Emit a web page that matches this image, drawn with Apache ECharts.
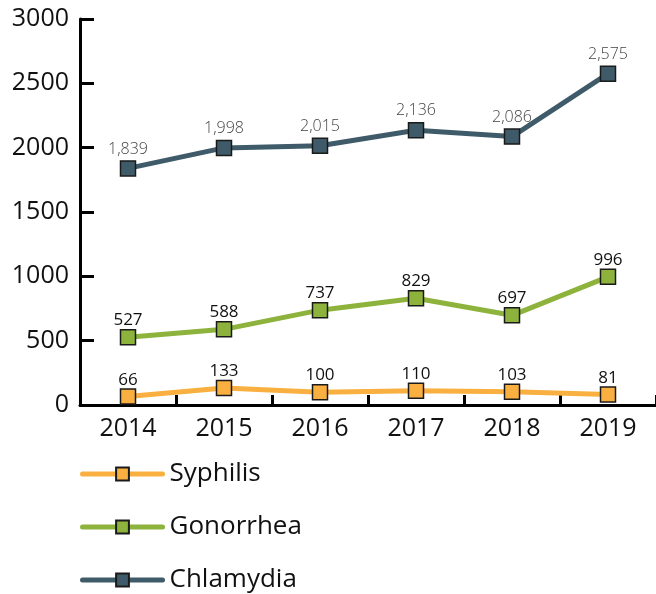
<!DOCTYPE html>
<html>
<head>
<meta charset="utf-8">
<script src="https://cdn.jsdelivr.net/npm/echarts@6/dist/echarts.min.js"></script>
<style>
  html, body { margin: 0; padding: 0; background: #fff; }
  #chart { width: 656px; height: 594px; }
</style>
</head>
<body>
<div id="chart"></div>
<script>
const years = ["2014", "2015", "2016", "2017", "2018", "2019"];
const syphilis = [66, 133, 100, 110, 103, 81];
const gonorrhea = [527, 588, 737, 829, 697, 996];
const chlamydia = [1839, 1998, 2015, 2136, 2086, 2575];

const FONT = "Open Sans";

function makeSeries(name, data, color, labelStyle) {
    return {
        name: name,
        type: "line",
        data: data,
        symbol: "rect",
        symbolSize: 15,
        lineStyle: { color: color, width: 5 },
        itemStyle: { color: color, borderColor: "#1a1a1a", borderWidth: 1.5 },
        label: Object.assign({
            show: true,
            position: "top",
            distance: 0,
            fontFamily: FONT
        }, labelStyle)
    };
}

const chart = echarts.init(document.getElementById("chart"));
chart.setOption({
    animation: false,
    grid: { left: 80, right: 0, top: 19, bottom: 189 },
    legend: {
        orient: "vertical",
        left: 80,
        top: 461,
        height: 200,
        padding: 0,
        itemWidth: 80,
        itemHeight: 16,
        itemGap: 27,
        data: ["Syphilis", "Gonorrhea", "Chlamydia"],
        lineStyle: { width: 5, cap: "round" },
        textStyle: { fontFamily: FONT, fontSize: 26, color: "#111", padding: [0, 0, 0, 2] }
    },
    xAxis: {
        type: "category",
        data: years,
        boundaryGap: true,
        axisLine: { lineStyle: { color: "#000", width: 3 } },
        axisTick: { show: true, inside: true, length: 10, lineStyle: { color: "#000", width: 3 } },
        axisLabel: { fontFamily: FONT, fontSize: 25, color: "#111", margin: 11 }
    },
    yAxis: {
        type: "value",
        min: 0,
        max: 3000,
        interval: 500,
        axisLine: { show: true, lineStyle: { color: "#000", width: 3 } },
        axisTick: { show: true, inside: true, length: 14, lineStyle: { color: "#000", width: 3 } },
        axisLabel: {
            fontFamily: FONT, fontSize: 25, color: "#111", margin: 11,
            formatter: function (v) { return String(v); }
        },
        splitLine: { show: false }
    },
    series: [
        makeSeries("Syphilis", syphilis, "#F9B040", { fontSize: 17, color: "#111" }),
        makeSeries("Gonorrhea", gonorrhea, "#8DB33D", { fontSize: 17, color: "#111" }),
        makeSeries("Chlamydia", chlamydia, "#3F5B69", {
            fontSize: 16,
            color: "#444",
            fontWeight: 300,
            distance: 3,
            formatter: function (p) { return p.value.toLocaleString("en-US"); }
        })
    ]
});
</script>
</body>
</html>
